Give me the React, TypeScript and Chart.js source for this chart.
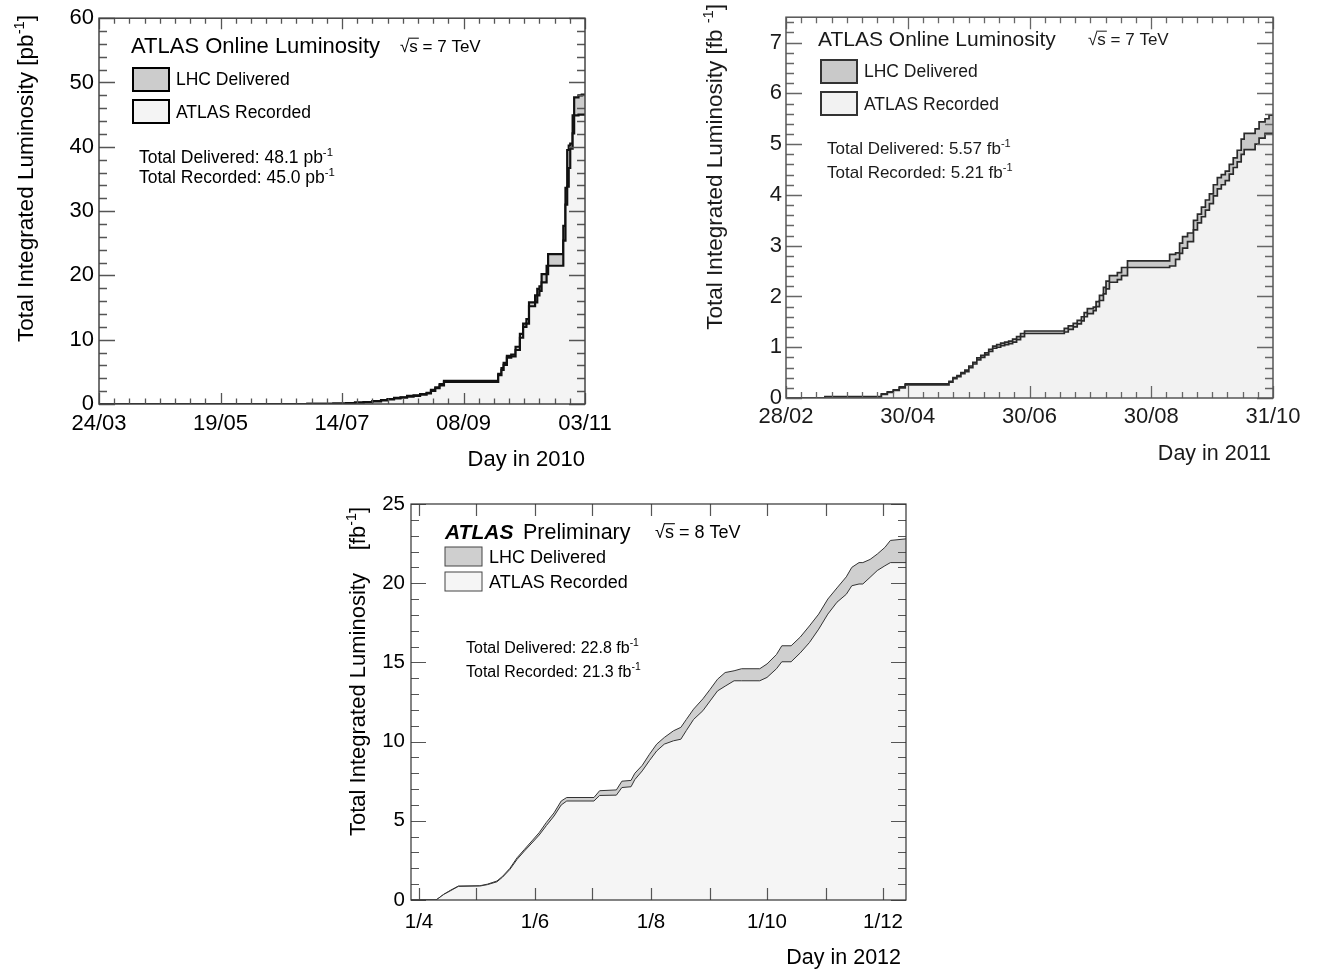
import React, { useEffect, useRef } from "react";
import { Chart, registerables } from "chart.js";

Chart.register(...registerables);

const FAMILY = "'Liberation Sans', Arial, Helvetica, sans-serif";

// ---------- 2010 (pb^-1), day 0 = 24/03/2010 ----------
const days2010 = [0, 96, 108, 114, 118, 122, 126, 130, 133, 136, 139, 142, 145, 148, 151, 153, 155, 157, 159, 184, 185.5, 186.5, 188, 190, 192, 194, 195.5, 197, 198.2, 201, 202, 203, 204, 206.3, 207, 214, 215, 215.8, 216.5, 217.2, 218.3, 219, 221, 222.5, 224];
const delivered2010 = [0, 0.02, 0.08, 0.15, 0.22, 0.3, 0.45, 0.6, 0.75, 0.95, 1.05, 1.25, 1.35, 1.55, 1.75, 2.2, 2.6, 3.1, 3.6, 4.7, 5.6, 6.4, 7.5, 7.7, 8.9, 10.9, 12.5, 13.2, 15.8, 16.9, 17.9, 18.3, 20.2, 21.5, 23.3, 27.7, 33.6, 39.5, 40.2, 40.5, 44.9, 47.7, 48.0, 48.1, 48.1];
const recorded2010 = [0, 0.02, 0.07, 0.14, 0.2, 0.28, 0.42, 0.56, 0.7, 0.88, 0.98, 1.15, 1.26, 1.45, 1.65, 2.05, 2.45, 2.9, 3.45, 4.5, 5.3, 6.1, 7.2, 7.4, 8.4, 10.3, 12.0, 12.5, 15.2, 15.8, 16.9, 17.6, 18.9, 20.2, 21.5, 25.4, 31.0, 33.8, 36.7, 39.7, 42.1, 44.9, 45.0, 45.0, 45.0];
const xTicks2010 = [0, 56, 112, 168, 224];
const xLabels2010 = ["24/03", "19/05", "14/07", "08/09", "03/11"];
const yTicks2010 = [0, 10, 20, 30, 40, 50, 60];

// ---------- 2011 (fb^-1), day 0 = 28/02/2011 ----------
const days2011 = [0, 19.6, 48, 51, 54, 57, 60, 82, 84, 86, 88, 90, 92, 94, 96, 98, 100, 102, 104, 106, 108, 110, 112, 114, 116, 118, 120, 140, 142, 144.5, 146.5, 148.6, 150, 151.6, 154.6, 156, 157.7, 159.7, 161, 162.7, 166.7, 168.8, 171.8, 193, 196, 198, 199.5, 202, 205, 207, 209, 211, 213, 215, 217, 219, 221, 223, 225, 227, 229, 230.5, 236, 238, 241, 243, 245];
const delivered2011 = [0, 0.03, 0.08, 0.12, 0.16, 0.22, 0.28, 0.33, 0.4, 0.44, 0.5, 0.55, 0.63, 0.7, 0.79, 0.84, 0.89, 0.96, 1.02, 1.05, 1.08, 1.1, 1.12, 1.16, 1.21, 1.27, 1.32, 1.37, 1.42, 1.47, 1.53, 1.6, 1.68, 1.76, 1.79, 1.9, 2.02, 2.18, 2.3, 2.41, 2.47, 2.57, 2.7, 2.83, 2.86, 3.05, 3.18, 3.25, 3.5, 3.62, 3.76, 3.9, 4.02, 4.2, 4.34, 4.4, 4.47, 4.6, 4.73, 4.88, 5.1, 5.21, 5.3, 5.44, 5.5, 5.57, 5.57];
const recorded2011 = [0, 0.02, 0.07, 0.11, 0.15, 0.2, 0.26, 0.31, 0.38, 0.42, 0.48, 0.52, 0.6, 0.67, 0.75, 0.8, 0.85, 0.92, 0.98, 1.0, 1.03, 1.05, 1.07, 1.1, 1.15, 1.21, 1.27, 1.3, 1.35, 1.4, 1.46, 1.52, 1.6, 1.66, 1.72, 1.8, 1.92, 2.05, 2.15, 2.28, 2.33, 2.41, 2.57, 2.6, 2.73, 2.85, 2.95, 3.08, 3.31, 3.45, 3.57, 3.7, 3.83, 3.98, 4.12, 4.2, 4.28, 4.41, 4.54, 4.65, 4.8, 4.89, 5.0, 5.12, 5.21, 5.21, 5.21];
const xTicks2011 = [0, 61.25, 122.5, 183.75, 245];
const xLabels2011 = ["28/02", "30/04", "30/06", "30/08", "31/10"];
const yTicks2011 = [0, 1, 2, 3, 4, 5, 6, 7];

// ---------- 2012 (fb^-1), day 0 = 1/4/2012 ----------
const days2012 = [-4.2, 9, 13, 16.8, 20.7, 32, 36, 41, 44, 47.8, 51.6, 55.5, 59.4, 63.2, 67, 71, 74.8, 77.7, 92, 95, 103.8, 106.7, 111.5, 113.5, 117.4, 121.2, 125, 129, 133.8, 137.7, 140.6, 144.4, 149.3, 153.1, 157, 161, 165.7, 169.6, 179.2, 183, 188, 190.8, 195.7, 200.5, 205.3, 210.2, 215, 219.8, 224.7, 227.6, 231.4, 233.4, 237.2, 241, 245, 247.9, 256.1];
const delivered2012 = [0, 0, 0.36, 0.63, 0.88, 0.9, 1.0, 1.2, 1.5, 2.0, 2.67, 3.2, 3.73, 4.25, 4.9, 5.5, 6.25, 6.47, 6.47, 6.9, 6.95, 7.5, 7.55, 8.0, 8.5, 9.2, 9.84, 10.26, 10.68, 10.9, 11.4, 12.05, 12.7, 13.3, 13.94, 14.36, 14.47, 14.6, 14.6, 14.9, 15.5, 16.05, 16.05, 16.6, 17.3, 18.05, 19.0, 19.7, 20.4, 21.0, 21.3, 21.3, 21.5, 21.84, 22.26, 22.7, 22.8];
const recorded2012 = [0, 0, 0.35, 0.6, 0.86, 0.88, 0.97, 1.15, 1.45, 1.93, 2.57, 3.1, 3.6, 4.1, 4.7, 5.3, 6.0, 6.25, 6.25, 6.6, 6.62, 7.1, 7.15, 7.6, 8.15, 8.8, 9.41, 9.84, 10.05, 10.15, 10.7, 11.4, 11.95, 12.57, 13.2, 13.5, 13.84, 13.84, 13.84, 14.05, 14.6, 15.04, 15.04, 15.6, 16.25, 17.1, 18.05, 18.8, 19.3, 19.84, 19.95, 19.95, 20.37, 20.8, 21.1, 21.3, 21.3];
const monthTicks2012 = [0, 30, 61, 91, 122, 153, 183, 214, 244];
const xTicks2012 = [0, 61, 122, 183, 244];
const xLabels2012 = ["1/4", "1/6", "1/8", "1/10", "1/12"];
const yTicks2012 = [0, 5, 10, 15, 20, 25];

type Part = { t: string; sup?: boolean; sqrt?: boolean; bold?: boolean; italic?: boolean };
type Txt = { x: number; y: number; size: number; parts: Part[]; align?: "left" | "right" | "center"; rot?: boolean };
type Box = { x: number; y: number; w: number; h: number; fill: string };

function steps(from: number, to: number, step: number): number[] {
  const out: number[] = [];
  const n = Math.round((to - from) / step);
  for (let i = 0; i <= n; i++) out.push(from + i * step);
  return out;
}

interface Spec {
  id: string;
  ox: number; oy: number; w: number; h: number;
  padTop: number; padRight: number; yWidth: number; xHeight: number;
  xMin: number; xMax: number; yMin: number; yMax: number;
  xLabelTicks: number[]; xLabels: string[]; yLabelTicks: number[];
  xMajor: number[]; xMinor: number[]; yMajor: number[]; yMinor: number[];
  xMajLen: number; xMinLen: number; yMajLen: number; yMinLen: number;
  tickSize: number; xPad: number; yPad: number;
  days: number[]; delivered: number[]; recorded: number[];
  stepped: boolean;
  lineColor: string; lineWidth: number;
  delFill: string; recFill: string;
  frameColor: string; frameWidth: number; tickColor: string; tickWidth: number;
  textColor: string;
  boxStroke: string; boxWidth: number;
  texts: Txt[]; boxes: Box[];
}

const fontOf = (size: number, p: Part) =>
  `${p.italic ? "italic " : ""}${p.bold ? "bold " : ""}${size}px ${FAMILY}`;

function drawRich(ctx: CanvasRenderingContext2D, t: Txt, ox: number, oy: number, color: string) {
  ctx.save();
  const size = t.size;
  const widths = t.parts.map((p) => {
    const s = p.sup ? size * 0.65 : size;
    ctx.font = fontOf(s, p);
    let w = ctx.measureText(p.t).width;
    if (p.sqrt) w += ctx.measureText("\u221A").width;
    return w;
  });
  const total = widths.reduce((a, b) => a + b, 0);
  const align = t.align || "left";
  let cx = align === "right" ? -total : align === "center" ? -total / 2 : 0;
  ctx.translate(t.x - ox, t.y - oy);
  if (t.rot) ctx.rotate(-Math.PI / 2);
  const base = 0.36 * size;
  ctx.textBaseline = "alphabetic";
  ctx.textAlign = "left";
  ctx.fillStyle = color;
  ctx.strokeStyle = color;
  t.parts.forEach((p, i) => {
    const s = p.sup ? size * 0.65 : size;
    ctx.font = fontOf(s, p);
    if (p.sqrt) {
      const rw = ctx.measureText("\u221A").width;
      const sw = ctx.measureText(p.t).width;
      ctx.fillText("\u221A", cx, base);
      ctx.fillText(p.t, cx + rw, base);
      ctx.beginPath();
      ctx.lineWidth = Math.max(1, size * 0.06);
      ctx.moveTo(cx + rw - 1, base - size * 0.82);
      ctx.lineTo(cx + rw + sw + 1, base - size * 0.82);
      ctx.stroke();
    } else {
      ctx.fillText(p.t, cx, p.sup ? base - size * 0.42 : base);
    }
    cx += widths[i];
  });
  ctx.restore();
}

function buildConfig(spec: Spec): any {
  const framePlugin = {
    id: "frame-" + spec.id,
    afterDatasetsDraw(chart: any) {
      const { ctx, chartArea, scales } = chart;
      const { left, right, top, bottom } = chartArea;
      const xs = scales.x;
      const ys = scales.y;
      ctx.save();
      ctx.strokeStyle = spec.tickColor;
      ctx.lineWidth = spec.tickWidth;
      ctx.beginPath();
      const xt = (vals: number[], len: number) => {
        vals.forEach((v) => {
          const px = Math.round(xs.getPixelForValue(v)) + 0.5;
          if (px < left - 1 || px > right + 1) return;
          ctx.moveTo(px, bottom);
          ctx.lineTo(px, bottom - len);
          ctx.moveTo(px, top);
          ctx.lineTo(px, top + len);
        });
      };
      const yt = (vals: number[], len: number) => {
        vals.forEach((v) => {
          const py = Math.round(ys.getPixelForValue(v)) + 0.5;
          if (py < top - 1 || py > bottom + 1) return;
          ctx.moveTo(left, py);
          ctx.lineTo(left + len, py);
          ctx.moveTo(right, py);
          ctx.lineTo(right - len, py);
        });
      };
      xt(spec.xMinor, spec.xMinLen);
      xt(spec.xMajor, spec.xMajLen);
      yt(spec.yMinor, spec.yMinLen);
      yt(spec.yMajor, spec.yMajLen);
      ctx.stroke();
      ctx.strokeStyle = spec.frameColor;
      ctx.lineWidth = spec.frameWidth;
      ctx.strokeRect(left, top, right - left, bottom - top);
      ctx.restore();
    },
    afterDraw(chart: any) {
      const ctx = chart.ctx as CanvasRenderingContext2D;
      ctx.save();
      spec.boxes.forEach((b) => {
        ctx.fillStyle = b.fill;
        ctx.fillRect(b.x - spec.ox, b.y - spec.oy, b.w, b.h);
        ctx.strokeStyle = spec.boxStroke;
        ctx.lineWidth = spec.boxWidth;
        ctx.strokeRect(b.x - spec.ox, b.y - spec.oy, b.w, b.h);
      });
      ctx.restore();
      spec.texts.forEach((t) => drawRich(ctx, t, spec.ox, spec.oy, spec.textColor));
    },
  };

  const mk = (vals: number[]) => spec.days.map((d, i) => ({ x: d, y: vals[i] }));

  return {
    type: "line",
    data: {
      datasets: [
        {
          label: "ATLAS Recorded",
          data: mk(spec.recorded),
          borderColor: spec.lineColor,
          borderWidth: spec.lineWidth,
          backgroundColor: spec.recFill,
          fill: "origin",
          pointRadius: 0,
          stepped: spec.stepped,
          tension: 0,
        },
        {
          label: "LHC Delivered",
          data: mk(spec.delivered),
          borderColor: spec.lineColor,
          borderWidth: spec.lineWidth,
          backgroundColor: spec.delFill,
          fill: "origin",
          pointRadius: 0,
          stepped: spec.stepped,
          tension: 0,
        },
      ],
    },
    options: {
      responsive: false,
      maintainAspectRatio: false,
      animation: false,
      events: [],
      layout: {
        autoPadding: false,
        padding: { left: 0, top: spec.padTop, right: spec.padRight, bottom: 0 },
      },
      plugins: { legend: { display: false }, tooltip: { enabled: false } },
      scales: {
        x: {
          type: "linear",
          position: "bottom",
          min: spec.xMin,
          max: spec.xMax,
          afterBuildTicks: (s: any) => {
            s.ticks = spec.xLabelTicks.map((v) => ({ value: v }));
          },
          afterFit: (s: any) => {
            s.height = spec.xHeight;
          },
          ticks: {
            autoSkip: false,
            maxRotation: 0,
            minRotation: 0,
            padding: spec.xPad,
            color: spec.textColor,
            font: { family: FAMILY, size: spec.tickSize },
            callback: (_v: any, i: number) => spec.xLabels[i],
          },
          grid: { display: false, drawTicks: false },
          border: { display: false },
        },
        y: {
          type: "linear",
          position: "left",
          min: spec.yMin,
          max: spec.yMax,
          afterBuildTicks: (s: any) => {
            s.ticks = spec.yLabelTicks.map((v) => ({ value: v }));
          },
          afterFit: (s: any) => {
            s.width = spec.yWidth;
          },
          ticks: {
            padding: spec.yPad,
            color: spec.textColor,
            font: { family: FAMILY, size: spec.tickSize },
            callback: (v: any) => String(v),
          },
          grid: { display: false, drawTicks: false },
          border: { display: false },
        },
      },
    },
    plugins: [framePlugin],
  };
}

const sup1: Part = { t: "-1", sup: true };

const spec2010: Spec = {
  id: "2010",
  ox: 0, oy: 0, w: 640, h: 480,
  padTop: 16, padRight: 55, yWidth: 99, xHeight: 76,
  xMin: 0, xMax: 224, yMin: 0, yMax: 60,
  xLabelTicks: xTicks2010, xLabels: xLabels2010, yLabelTicks: yTicks2010,
  xMajor: xTicks2010, xMinor: steps(0, 224, 7), yMajor: yTicks2010, yMinor: steps(0, 60, 2),
  xMajLen: 11, xMinLen: 5.5, yMajLen: 16, yMinLen: 8,
  tickSize: 22, xPad: 7, yPad: 5,
  days: days2010, delivered: delivered2010, recorded: recorded2010,
  stepped: true,
  lineColor: "#111111", lineWidth: 2.2,
  delFill: "#cccccc", recFill: "#f4f4f4",
  frameColor: "#444444", frameWidth: 1.5, tickColor: "#555555", tickWidth: 1.3,
  textColor: "#000000",
  boxStroke: "#000000", boxWidth: 2,
  boxes: [
    { x: 133, y: 68, w: 36, h: 23, fill: "#cccccc" },
    { x: 133, y: 100, w: 36, h: 23, fill: "#f4f4f4" },
  ],
  texts: [
    { x: 131, y: 45, size: 22, parts: [{ t: "ATLAS Online Luminosity" }] },
    { x: 400, y: 46, size: 17, parts: [{ t: "s", sqrt: true }, { t: " = 7 TeV" }] },
    { x: 176, y: 79, size: 17.5, parts: [{ t: "LHC Delivered" }] },
    { x: 176, y: 112, size: 17.5, parts: [{ t: "ATLAS Recorded" }] },
    { x: 139, y: 157, size: 17.5, parts: [{ t: "Total Delivered: 48.1 pb" }, sup1] },
    { x: 139, y: 177, size: 17.5, parts: [{ t: "Total Recorded: 45.0 pb" }, sup1] },
    { x: 585, y: 458, size: 22, align: "right", parts: [{ t: "Day in 2010" }] },
    { x: 25, y: 15, size: 22.6, align: "right", rot: true, parts: [{ t: "Total Integrated Luminosity [pb" }, sup1, { t: "]" }] },
  ],
};

const spec2011: Spec = {
  id: "2011",
  ox: 660, oy: 0, w: 657, h: 480,
  padTop: 7, padRight: 44, yWidth: 126, xHeight: 82,
  xMin: 0, xMax: 245, yMin: 0, yMax: 7.5,
  xLabelTicks: xTicks2011, xLabels: xLabels2011, yLabelTicks: yTicks2011,
  xMajor: xTicks2011, xMinor: steps(0, 245, 245 / 32), yMajor: yTicks2011, yMinor: steps(0, 7.4, 0.2),
  xMajLen: 12, xMinLen: 6, yMajLen: 16, yMinLen: 8,
  tickSize: 22, xPad: 6, yPad: 4,
  days: days2011, delivered: delivered2011, recorded: recorded2011,
  stepped: true,
  lineColor: "#2a2a2a", lineWidth: 1.7,
  delFill: "#c9c9c9", recFill: "#f2f2f2",
  frameColor: "#555555", frameWidth: 1.5, tickColor: "#666666", tickWidth: 1.3,
  textColor: "#1a1a1a",
  boxStroke: "#333333", boxWidth: 2,
  boxes: [
    { x: 821, y: 60, w: 36, h: 23, fill: "#c9c9c9" },
    { x: 821, y: 92, w: 36, h: 23, fill: "#f2f2f2" },
  ],
  texts: [
    { x: 818, y: 38, size: 21, parts: [{ t: "ATLAS Online Luminosity" }] },
    { x: 1088, y: 39, size: 17, parts: [{ t: "s", sqrt: true }, { t: " = 7 TeV" }] },
    { x: 864, y: 71, size: 17.5, parts: [{ t: "LHC Delivered" }] },
    { x: 864, y: 104, size: 17.5, parts: [{ t: "ATLAS Recorded" }] },
    { x: 827, y: 148, size: 17, parts: [{ t: "Total Delivered: 5.57 fb" }, sup1] },
    { x: 827, y: 172, size: 17, parts: [{ t: "Total Recorded: 5.21 fb" }, sup1] },
    { x: 1271, y: 452, size: 21.5, align: "right", parts: [{ t: "Day in 2011" }] },
    { x: 714, y: 4, size: 22.5, align: "right", rot: true, parts: [{ t: "Total Integrated Luminosity [fb " }, sup1, { t: "]" }] },
  ],
};

const spec2012: Spec = {
  id: "2012",
  ox: 330, oy: 480, w: 620, h: 489,
  padTop: 24, padRight: 44, yWidth: 81, xHeight: 69,
  xMin: -4.2, xMax: 256.1, yMin: 0, yMax: 25,
  xLabelTicks: xTicks2012, xLabels: xLabels2012, yLabelTicks: yTicks2012,
  xMajor: monthTicks2012, xMinor: [], yMajor: yTicks2012, yMinor: steps(0, 25, 1),
  xMajLen: 12, xMinLen: 6, yMajLen: 15, yMinLen: 8,
  tickSize: 20.5, xPad: 10, yPad: 6,
  days: days2012, delivered: delivered2012, recorded: recorded2012,
  stepped: false,
  lineColor: "#333333", lineWidth: 1,
  delFill: "#cfcfcf", recFill: "#f5f5f5",
  frameColor: "#333333", frameWidth: 1.2, tickColor: "#555555", tickWidth: 1.2,
  textColor: "#000000",
  boxStroke: "#444444", boxWidth: 1,
  boxes: [
    { x: 445, y: 547, w: 37, h: 19, fill: "#cfcfcf" },
    { x: 445, y: 572, w: 37, h: 19, fill: "#f5f5f5" },
  ],
  texts: [
    { x: 445, y: 531, size: 21, parts: [{ t: "ATLAS", bold: true, italic: true }] },
    { x: 523, y: 531, size: 21.5, parts: [{ t: "Preliminary" }] },
    { x: 655, y: 532, size: 18, parts: [{ t: "s", sqrt: true }, { t: " = 8 TeV" }] },
    { x: 489, y: 557, size: 18, parts: [{ t: "LHC Delivered" }] },
    { x: 489, y: 582, size: 18, parts: [{ t: "ATLAS Recorded" }] },
    { x: 466, y: 647, size: 16, parts: [{ t: "Total Delivered: 22.8 fb" }, sup1] },
    { x: 466, y: 671, size: 16, parts: [{ t: "Total Recorded: 21.3 fb" }, sup1] },
    { x: 901, y: 956, size: 21.5, align: "right", parts: [{ t: "Day in 2012" }] },
    { x: 357, y: 836, size: 22, align: "left", rot: true, parts: [{ t: "Total Integrated Luminosity" }] },
    { x: 357, y: 507, size: 22, align: "right", rot: true, parts: [{ t: "[fb" }, sup1, { t: "]" }] },
  ],
};

const SPECS: Spec[] = [spec2010, spec2011, spec2012];

function LumiChart({ spec }: { spec: Spec }) {
  const ref = useRef<HTMLCanvasElement>(null);
  useEffect(() => {
    if (!ref.current) return;
    const chart = new Chart(ref.current, buildConfig(spec));
    return () => chart.destroy();
  }, [spec]);
  return (
    <canvas
      ref={ref}
      width={spec.w}
      height={spec.h}
      style={{ position: "absolute", left: spec.ox, top: spec.oy, width: spec.w, height: spec.h }}
    />
  );
}

export default function App() {
  return (
    <div style={{ position: "absolute", left: 0, top: 0, width: 1317, height: 969, background: "#ffffff", overflow: "hidden" }}>
      {SPECS.map((s) => (
        <LumiChart key={s.id} spec={s} />
      ))}
    </div>
  );
}
